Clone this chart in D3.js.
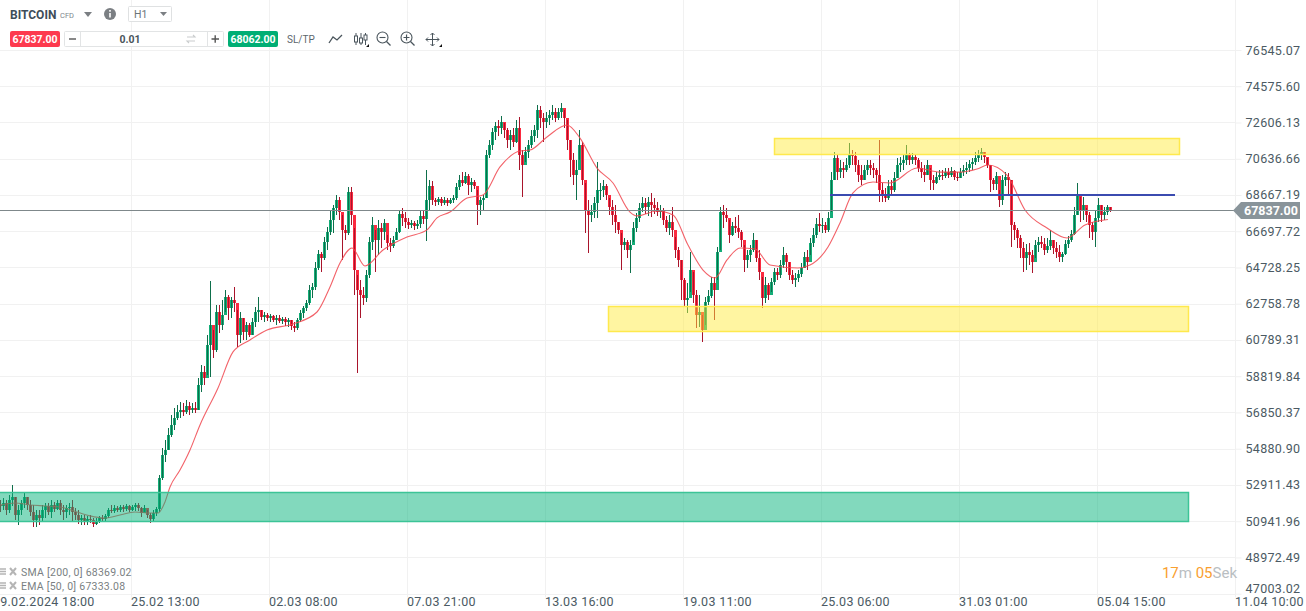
<!DOCTYPE html>
<html>
<head>
<meta charset="utf-8">
<script src="https://cdn.jsdelivr.net/npm/d3@7"></script>
<style>
  html, body { margin: 0; padding: 0; background: #fff; overflow: hidden; }
  svg { display: block; font-family: Roboto, sans-serif; }
  .axis path { stroke: #f1f1f1; }
  .axis line { stroke: #f1f1f1; }
  .axis text { fill: #4b5a63; font-size: 12.5px; letter-spacing: 0.3px; font-family: Roboto, sans-serif; }
</style>
</head>
<body>
<svg id="chart" width="1306" height="611"></svg>
<script>
"use strict";

// price axis
const priceTicks = [76545.07, 74575.60, 72606.13, 70636.66, 68667.19, 66697.72, 64728.25, 62758.78,
    60789.31, 58819.84, 56850.37, 54880.90, 52911.43, 50941.96, 48972.49, 47003.02];
// time axis (hours from the left of the plot, the broker skips some hours)
const timeTickHours = [-7, 131, 269, 407, 545, 683, 821, 959, 1097, 1235];
const timeTickLabels = ["19.02.2024 18:00", "25.02 13:00", "02.03 08:00", "07.03 21:00", "13.03 16:00",
    "19.03 11:00", "25.03 06:00", "31.03 01:00", "05.04 15:00", "11.04 10:00"];

// candles, one for every 3 hours
const candleStep = 3;
const firstOpen = 51800;
const highs = [
    52100,52210,52100,52370,52910,52260,51830,52100,52530,52260,
    52100,51830,51550,51550,51830,51940,51940,52100,51990,52100,
    52100,51830,51830,51940,52100,51660,51550,51280,51280,51230,
    51280,51120,51120,51230,51280,51340,51660,51830,51830,51770,
    51830,51830,51880,51830,51830,51940,51940,51720,51830,51550,
    51390,51550,51720,53450,54920,55360,56010,56720,57100,57260,
    57420,57370,57530,57420,57370,57420,58720,59430,59380,61060,
    63990,61330,62690,62690,62960,63510,63230,63130,63670,62420,
    62310,61990,61770,61710,61990,62580,63130,62420,62310,62260,
    62200,62150,62150,62150,62040,62040,61990,61880,61770,61990,
    62420,62640,62960,63780,63890,65030,65680,65570,66380,66930,
    67850,68120,68670,68560,67580,67040,69100,69100,66870,64320,
    64050,63670,64590,66390,67470,66770,67310,67150,67360,66490,
    66330,66440,66870,67850,67960,67740,67420,67310,67250,67310,
    67850,67850,70030,69480,69430,68500,68560,68560,68560,68500,
    68500,68670,69320,69750,69920,69920,69810,69590,69480,68940,
    68560,68670,71110,71660,72310,72630,72740,72960,72580,72310,
    72200,72310,72740,72900,71110,71280,71660,72200,72470,73560,
    73500,73120,73180,73290,73560,73390,73390,73670,73290,72740,
    71660,70950,70570,72200,71550,69320,68400,68120,68560,70460,
    69320,69480,69270,68500,68400,68120,67200,66600,66330,66220,
    66220,67200,67690,68230,68560,68500,68560,68780,68500,68290,
    68120,67960,67530,67580,68010,66390,65840,65140,64160,63890,
    65570,64480,63510,63230,62150,63130,63510,64210,64210,65840,
    68010,68120,67960,67310,67200,67470,67580,66770,65950,65680,
    65950,66600,66220,65680,64210,64210,63890,64160,64700,64700,
    65140,65840,65520,65030,64590,64430,64590,64970,65570,65680,
    66330,66870,67420,67690,67420,67200,67740,69920,71000,70840,
    70570,70460,70680,71490,71110,71000,70570,70300,70300,70570,
    70570,70400,70130,71660,69320,69050,69480,69480,69920,70680,
    70730,70840,71380,70950,70950,70840,70680,70460,70300,70570,
    70130,69750,69920,70030,70030,70130,70130,70190,70030,69920,
    70130,70300,70460,70570,70680,71000,71110,71220,71000,70680,
    70300,69590,69920,68940,69750,69920,69860,69480,67200,66870,
    66490,66110,66000,66060,65680,66220,66390,66440,66330,66330,
    66770,66220,66110,65950,65570,66220,66440,66770,68010,69320,
    68560,68560,67960,67740,67200,67850,68500,68120,68010,68120,68010
];
const lows = [
    51440,51550,51280,51390,51770,51010,50740,51280,51660,51550,
    51230,50630,50630,50740,50900,51120,51280,51120,51440,51550,
    51280,51010,51120,51280,50900,51010,50790,50740,50740,50740,
    50850,50630,50740,50850,50900,50960,51120,51390,51390,51440,
    51440,51440,51500,51440,51500,51500,51500,51170,51440,51120,
    50850,50960,51230,51440,53180,54160,54810,55520,55900,56440,
    56550,56660,56770,56710,56820,56820,56990,57960,58340,58890,
    58780,59810,60140,61170,61330,62310,61880,61990,62310,60410,
    60630,60790,60790,60950,61060,61500,61770,61880,61770,61820,
    61770,61770,61600,61710,61660,61550,61500,61330,61220,61330,
    61770,61990,62360,62690,63070,63510,64590,64480,65140,65680,
    66490,66600,67580,67310,65140,66220,66490,67040,63230,58990,
    61990,62690,62850,64160,65680,64480,65410,65790,66220,65680,
    65570,65790,66220,66600,66980,66870,66820,66870,66770,66820,
    66870,67090,66170,67850,68120,68070,68120,68070,68120,68070,
    68180,68230,68400,68940,69160,69270,68670,68830,68990,67040,
    67580,67850,68500,70680,71110,71660,71870,71980,71760,71220,
    71110,71280,71490,70030,68560,70460,70680,71220,71550,71760,
    72310,71550,72310,72470,72740,72630,72740,72850,72310,71110,
    69650,69210,68400,70570,69210,66600,65520,67200,67420,67420,
    68400,68560,68400,67580,67040,66600,66550,64590,65680,65240,
    64430,66110,66660,67200,67740,67640,67530,67470,67640,67530,
    67420,67040,66660,66490,66390,65240,64760,62960,62580,62260,
    63400,62800,61440,61500,60680,61600,62690,63070,61880,64050,
    65680,66870,67200,66060,66440,66600,66330,65840,64480,64700,
    65030,65570,65030,64050,62530,62800,62960,63400,63780,64050,
    64160,64700,64480,64050,63830,63670,63940,64210,64700,64590,
    65410,65840,66330,66660,66600,66600,66660,67740,69480,69480,
    69590,69590,69920,70130,70300,69920,69380,69210,69480,69750,
    69750,69590,69320,68290,68290,68290,68400,68670,68830,69590,
    69920,70030,70300,70300,70350,70300,69920,69590,69380,69750,
    68940,68940,69270,69480,69480,69590,69590,69650,69480,69430,
    69590,69700,69810,69920,70030,70300,70460,70570,70400,70130,
    68830,68940,68940,68020,68120,69160,68670,65840,66220,65790,
    65240,64480,64590,64860,64430,65240,65570,65790,65410,65520,
    65680,65460,65240,65030,65030,65410,65790,66110,66490,67580,
    67200,67310,67200,66330,66220,65840,67200,67200,67310,67580,67740
];
const closes = [
    51770,51930,51550,52100,52260,51280,51550,51930,52260,51830,
    51440,51010,51280,51120,51550,51770,51440,51830,51610,51930,
    51550,51440,51660,51720,51440,51280,51010,51120,50900,51060,
    51010,50790,50960,51120,51060,51230,51550,51500,51660,51550,
    51720,51610,51770,51550,51720,51830,51660,51390,51660,51280,
    51060,51390,51610,53290,54540,54810,55630,56170,56550,56880,
    56990,56880,57200,56990,57100,56990,58340,59050,58720,60520,
    61600,60250,62310,61600,62150,63130,62530,62960,62800,61060,
    61990,61230,61600,61060,61770,62310,62420,62040,62150,61990,
    62090,61880,61990,61820,61930,61770,61880,61550,61440,61880,
    62260,62530,62800,63510,63670,64700,65460,65240,66110,66660,
    67310,67960,68400,67740,66770,66600,68830,67580,64590,63510,
    63230,63070,64320,66110,67040,66220,66870,66660,67150,66060,
    65900,66220,66660,67640,67420,67200,67040,67150,66980,67090,
    67530,67360,68400,69160,68400,68290,68450,68230,68400,68230,
    68400,68500,69100,69480,69320,69700,69210,69380,69160,68120,
    68400,68500,70840,71380,72090,72420,72310,72630,72200,71660,
    71930,71550,72310,70840,70300,71000,71380,71870,72200,73290,
    72850,72630,72850,73010,73180,72850,73180,73390,72850,71660,
    70570,69750,70030,71380,69480,67850,67580,67740,68230,68940,
    68940,69160,68670,68010,67580,67200,66770,65950,66110,65680,
    65950,66870,67420,67960,68230,68010,68290,68120,67960,67740,
    67850,67310,66870,67200,66770,65680,65140,64050,62960,63070,
    64590,63230,62150,62310,61330,62850,63180,63890,63510,65570,
    67740,67580,67420,66490,66980,66870,66660,66220,65140,65410,
    65680,66220,65240,64480,63070,63780,63235,63940,64480,64320,
    64860,65410,65030,64320,64050,64160,64380,64700,65300,65030,
    66060,66490,67090,66980,67040,66770,67420,69480,70680,69920,
    70130,70030,70300,70840,70790,70300,69750,69480,70030,70300,
    70130,70030,69750,68940,68670,68500,69160,68940,69590,70300,
    70400,70570,70840,70570,70730,70570,70130,69920,69750,70300,
    69480,69320,69650,69750,69700,69920,69750,69970,69650,69590,
    69920,70030,70130,70350,70460,70680,70840,71000,70730,70300,
    69480,69270,69700,68400,69480,69650,69480,67040,66770,66330,
    65790,65240,65570,65410,65030,65950,66110,66000,65680,65900,
    66220,65790,65570,65300,65460,66000,66220,66550,67580,68670,
    67850,68120,67580,67040,66660,67420,68120,67580,67740,68010,67837
];

// EMA 50, read at the hours where the line bends
const emaHours = [0,15,30,45,60,77,90,105,120,135,150,158,165,170,180,190,200,218,233,250,267,293,317,330,340,
    352,365,383,407,427,437,450,467,483,500,520,530,547,567,580,597,613,630,637,657,673,688,703,715,727,740,755,
    770,798,810,828,840,853,873,890,917,940,960,977,988,1007,1025,1047,1067,1085,1108];
const emaValues = [51825,51935,51825,51770,51715,51445,51230,51120,51280,51445,51390,51390,51990,52800,53720,54810,
    56170,58180,60140,60790,61330,61660,62310,63670,64970,65790,64810,65680,66380,66770,67420,67740,68500,68670,
    70190,71060,71110,71820,72470,71760,70130,69320,67740,67530,67800,67580,65950,64590,64160,65140,65790,65730,
    64860,64700,64860,65840,67150,68780,69370,69320,70130,69910,69910,70080,70300,69750,67850,66870,66330,67040,67333];

// drawn levels and boxes
const currentPrice = 67837;
const blueLevel = { from: 830, to: 1175, price: 68667.19 };
const zones = [
    { from: 774, to: 1179, top: 71740, bottom: 70890, fill: "#ffeb3b", stroke: "#ffe94d", opacity: 0.48 },
    { from: 608, to: 1188, top: 62640, bottom: 61280, fill: "#ffeb3b", stroke: "#ffe94d", opacity: 0.48 },
    { from: -2, to: 1188, top: 52510, bottom: 50960, fill: "#06b47c", stroke: "#3cc497", opacity: 0.5 }
];

const svg = d3.select("#chart");
const x = d3.scaleLinear().domain([0, 1110]).range([0, 1110]);
const y = d3.scaleLinear().domain([47003.02, 76545.07]).range([593.7, 50]);
const plotRight = x(1235) + 0.5;
const plotBottom = Math.round(y(47003.02)) + 0.5;

// grid
const grid = svg.append("g").attr("stroke", "#f1f1f1").attr("stroke-width", 1);
grid.selectAll(".gv").data(timeTickHours).enter().append("line")
    .attr("x1", d => x(d) + 0.5).attr("x2", d => x(d) + 0.5)
    .attr("y1", 0).attr("y2", plotBottom + 3);
grid.selectAll(".gh").data(priceTicks).enter().append("line")
    .attr("x1", 0).attr("x2", plotRight)
    .attr("y1", d => Math.round(y(d)) + 0.5).attr("y2", d => Math.round(y(d)) + 0.5);

// candles
const candles = highs.map((h, i) => ({
    hour: i * candleStep,
    high: h,
    low: lows[i],
    open: i === 0 ? firstOpen : closes[i - 1],
    close: closes[i]
}));
const cg = svg.append("g").attr("shape-rendering", "crispEdges");
cg.selectAll(".body").data(candles).enter().append("rect")
    .attr("x", d => x(d.hour) - 1)
    .attr("width", 3)
    .attr("y", d => y(Math.max(d.open, d.close)))
    .attr("height", d => Math.max(1, Math.abs(y(d.open) - y(d.close))))
    .attr("fill", d => d.close >= d.open ? "#14ad78" : "#fb2a40");
cg.selectAll(".wick").data(candles).enter().append("line")
    .attr("x1", d => x(d.hour) + 0.5).attr("x2", d => x(d.hour) + 0.5)
    .attr("y1", d => y(d.high)).attr("y2", d => y(d.low))
    .attr("stroke", d => d.close >= d.open ? "#0e6f4b" : "#a9142b");

// EMA line
const emaLine = d3.line()
    .x((d, i) => x(emaHours[i]))
    .y(d => y(d))
    .curve(d3.curveMonotoneX);
svg.append("path").datum(emaValues)
    .attr("d", emaLine)
    .attr("fill", "none")
    .attr("stroke", "#f0474f")
    .attr("stroke-opacity", 0.85)
    .attr("stroke-width", 1.1);

// boxes go over the candles
svg.selectAll(".zone").data(zones).enter().append("rect")
    .attr("x", d => x(d.from) + 0.5)
    .attr("width", d => x(d.to) - x(d.from))
    .attr("y", d => Math.round(y(d.top)) + 0.5)
    .attr("height", d => Math.round(y(d.bottom)) - Math.round(y(d.top)))
    .attr("fill", d => d.fill)
    .attr("fill-opacity", d => d.opacity)
    .attr("stroke", d => d.stroke)
    .attr("stroke-width", 1.5);

// current price line and blue level
svg.append("line")
    .attr("x1", 0).attr("x2", plotRight)
    .attr("y1", Math.round(y(currentPrice)) + 0.5).attr("y2", Math.round(y(currentPrice)) + 0.5)
    .attr("stroke", "#7f888b").attr("stroke-width", 1);
svg.append("line")
    .attr("x1", x(blueLevel.from)).attr("x2", x(blueLevel.to))
    .attr("y1", y(blueLevel.price)).attr("y2", y(blueLevel.price))
    .attr("stroke", "#3b4bb0").attr("stroke-width", 2);

// axes
const yAxis = d3.axisRight(y).tickValues(priceTicks)
    .tickFormat(d3.format(".2f")).tickSize(6).tickPadding(4);
const yg = svg.append("g").attr("class", "axis")
    .attr("transform", `translate(${plotRight},0)`).call(yAxis);
yg.select(".domain").remove();
yg.selectAll("text").filter(d => d === 47003.02).attr("dy", "-0.1em");

const xAxis = d3.axisBottom(x).tickValues(timeTickHours)
    .tickFormat((d, i) => timeTickLabels[i]).tickSize(0).tickPadding(3);
const xg = svg.append("g").attr("class", "axis")
    .attr("transform", `translate(0,${plotBottom})`).call(xAxis);
xg.select(".domain").remove();
xg.selectAll("text").attr("text-anchor", "start").attr("dx", "-0.05em");

// price tag
const tagY = Math.round(y(currentPrice)) + 0.5;
svg.append("path")
    .attr("d", `M1233,${tagY} L1241,${tagY - 8.5} H1300 V${tagY + 8.5} H1241 Z`)
    .attr("fill", "#89949a");
svg.append("text").attr("x", 1244).attr("y", tagY + 4.5)
    .attr("fill", "#fff").attr("font-size", 12.5).attr("font-weight", 700)
    .text(d3.format(".2f")(currentPrice));

// countdown
const timer = svg.append("text").attr("x", 1237).attr("y", 578)
    .attr("text-anchor", "end").attr("font-size", 15).attr("fill", "#b9bec2");
timer.append("tspan").attr("fill", "#f9a030").text("17");
timer.append("tspan").text("m ");
timer.append("tspan").attr("fill", "#f9a030").text("05");
timer.append("tspan").text("Sek");

// indicator legend
const legendRows = [["SMA [200, 0] 68369.02", 576], ["EMA [50, 0] 67333.08", 590]];
legendRows.forEach(([label, ly]) => {
    svg.append("text").attr("x", 21).attr("y", ly)
        .attr("font-size", 10.5).attr("letter-spacing", 0.25).attr("fill", "#7a7f83").text(label);
    svg.append("path")
        .attr("d", `M0,${ly - 7}H6M0,${ly - 4.5}H6M0,${ly - 2}H6`)
        .attr("stroke", "#b5b5b5").attr("stroke-width", 1.4);
    svg.append("path")
        .attr("d", `M10,${ly - 8}L16,${ly - 1}M16,${ly - 8}L10,${ly - 1}`)
        .attr("stroke", "#b5b5b5").attr("stroke-width", 2);
});

// toolbar, row 1
const bar = svg.append("g");
bar.append("text").attr("x", 10).attr("y", 19).attr("font-size", 12).attr("font-weight", 700)
    .attr("fill", "#3e4d59").text("BITCOIN");
bar.append("text").attr("x", 60).attr("y", 18).attr("font-size", 7.5).attr("fill", "#7b858c").text("CFD");
bar.append("path").attr("d", "M84,12H92L88,17Z").attr("fill", "#7b7f83");
bar.append("circle").attr("cx", 110).attr("cy", 14).attr("r", 6).attr("fill", "#7b7f83");
bar.append("rect").attr("x", 109.2).attr("y", 13).attr("width", 1.6).attr("height", 4.5).attr("fill", "#fff");
bar.append("rect").attr("x", 109.2).attr("y", 10).attr("width", 1.6).attr("height", 1.7).attr("fill", "#fff");
bar.append("rect").attr("x", 128.5).attr("y", 6.5).attr("width", 43).attr("height", 15).attr("rx", 1)
    .attr("fill", "#fff").attr("stroke", "#dfe1e2");
bar.append("text").attr("x", 134).attr("y", 18).attr("font-size", 10.5).attr("fill", "#6b7479").text("H1");
bar.append("path").attr("d", "M160,12H167L163.5,16Z").attr("fill", "#7b7f83");

// toolbar, row 2
bar.append("rect").attr("x", 10).attr("y", 31).attr("width", 50).attr("height", 16).attr("rx", 2).attr("fill", "#fd3a4e");
bar.append("text").attr("x", 35).attr("y", 43).attr("text-anchor", "middle").attr("font-size", 10.5)
    .attr("font-weight", 700).attr("fill", "#fff").text("67837.00");
bar.append("rect").attr("x", 64.5).attr("y", 31.5).attr("width", 159).attr("height", 15).attr("rx", 1)
    .attr("fill", "#fff").attr("stroke", "#e2e4e5");
bar.append("line").attr("x1", 80.5).attr("x2", 80.5).attr("y1", 31.5).attr("y2", 46.5).attr("stroke", "#e2e4e5");
bar.append("line").attr("x1", 207.5).attr("x2", 207.5).attr("y1", 31.5).attr("y2", 46.5).attr("stroke", "#e2e4e5");
bar.append("path").attr("d", "M69,39H76").attr("stroke", "#555").attr("stroke-width", 1.4);
bar.append("path").attr("d", "M211.5,39H219M215.2,35.2V42.8").attr("stroke", "#555").attr("stroke-width", 1.4);
bar.append("text").attr("x", 130).attr("y", 43).attr("text-anchor", "middle").attr("font-size", 10.5)
    .attr("font-weight", 700).attr("fill", "#4a555c").text("0.01");
bar.append("path").attr("d", "M187,37H195L193,35M195,41H187L189,43").attr("fill", "none").attr("stroke", "#c9cccd").attr("stroke-width", 1.1);
bar.append("rect").attr("x", 228).attr("y", 31).attr("width", 50).attr("height", 16).attr("rx", 2).attr("fill", "#00ae74");
bar.append("text").attr("x", 253).attr("y", 43).attr("text-anchor", "middle").attr("font-size", 10.5)
    .attr("font-weight", 700).attr("fill", "#fff").text("68062.00");
bar.append("text").attr("x", 287).attr("y", 42.5).attr("font-size", 10).attr("fill", "#5c666c").text("SL/TP");

// chart tools
const icon = "#4a555c";
bar.append("path").attr("d", "M329,43L333,37L337,40L342,35").attr("fill", "none").attr("stroke", icon).attr("stroke-width", 1.3);
bar.append("path").attr("d", "M356,33V45M361,33V45M365.5,33V45").attr("stroke", icon).attr("stroke-width", 1);
bar.append("rect").attr("x", 354.5).attr("y", 36).attr("width", 3).attr("height", 6).attr("fill", "#fff").attr("stroke", icon);
bar.append("rect").attr("x", 359.5).attr("y", 38).attr("width", 3).attr("height", 5).attr("fill", "#fff").attr("stroke", icon);
bar.append("rect").attr("x", 364).attr("y", 35).attr("width", 3).attr("height", 5).attr("fill", "#fff").attr("stroke", icon);
[[382.5, "M379.5,37.5H385.5"], [406.5, "M403.5,37.5H409.5M406.5,34.5V40.5"]].forEach(([cx, mark]) => {
    bar.append("circle").attr("cx", cx).attr("cy", 37.5).attr("r", 5.5).attr("fill", "none").attr("stroke", icon).attr("stroke-width", 1.1);
    bar.append("path").attr("d", `M${cx + 4},41.5L${cx + 8},45.5`).attr("stroke", icon).attr("stroke-width", 1.3);
    bar.append("path").attr("d", mark).attr("stroke", icon).attr("stroke-width", 1.1);
});
bar.append("path").attr("d", "M426,39.5H439M432.5,33V46M430.5,35L432.5,33L434.5,35M430.5,44L432.5,46L434.5,44M428,37.5L426,39.5L428,41.5M437,37.5L439,39.5L437,41.5")
    .attr("fill", "none").attr("stroke", icon).attr("stroke-width", 1);
bar.append("path").attr("d", "M369,44V47H366ZM442,44V47H439Z").attr("fill", "#111");
</script>
</body>
</html>
